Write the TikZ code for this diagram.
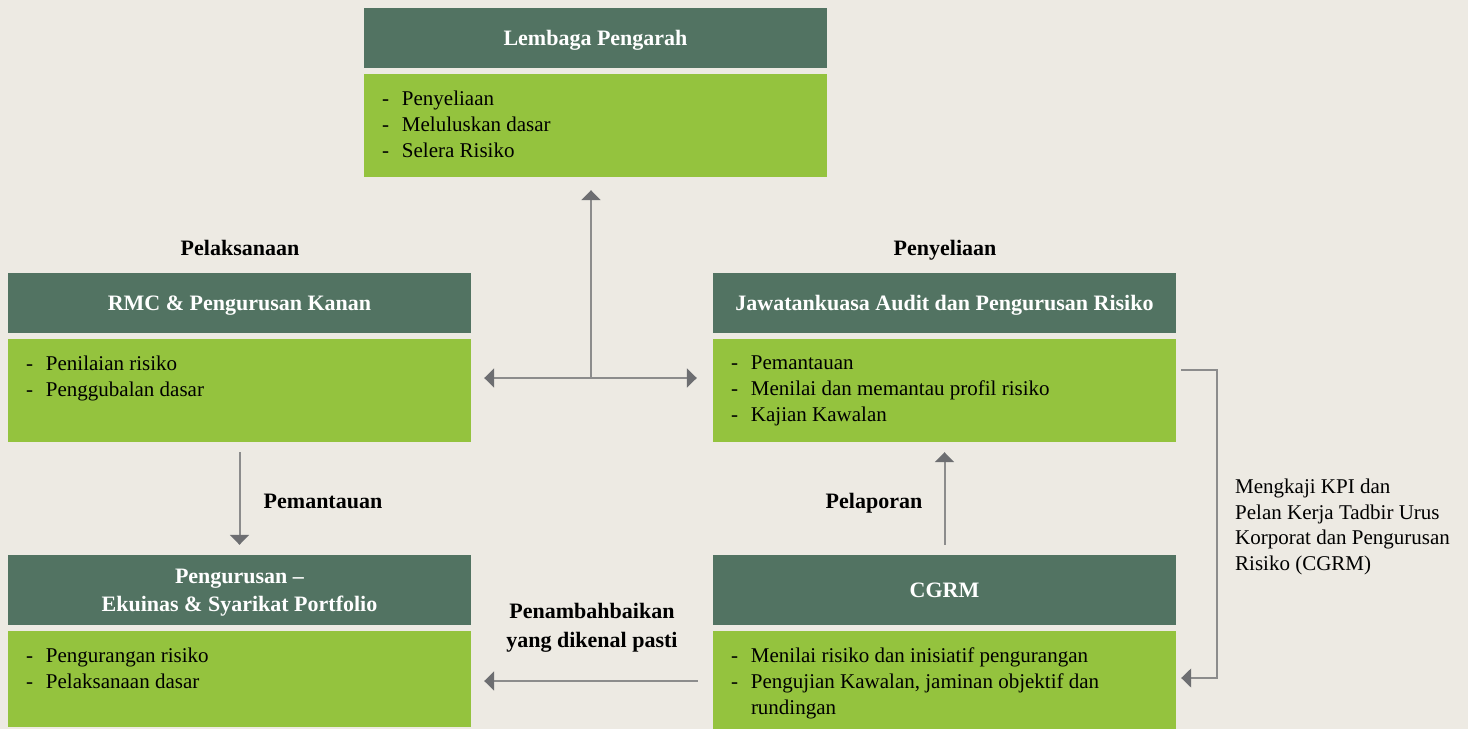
\documentclass[tikz,border=0pt]{standalone}
\usepackage{fontspec}
\setmainfont{Liberation Serif}
\usetikzlibrary{arrows.meta,calc}
\definecolor{bg}{HTML}{EDEAE3}
\definecolor{dkg}{HTML}{527362}
\definecolor{ltg}{HTML}{94C33E}
\definecolor{lnc}{HTML}{8C8C8C}
\definecolor{tipc}{HTML}{6D6E71}
\newcommand{\dli}{\makebox[20pt][l]{-}}
\begin{document}
\begin{tikzpicture}[x=1pt,y=-1pt,
 hdr/.style={fill=dkg, text=white, font=\fontsize{22}{28}\selectfont\bfseries, minimum width=463pt, inner sep=0pt, align=center, text depth=-3pt},
 bodyb/.style={fill=ltg, minimum width=463pt, inner sep=0pt},
 lst/.style={anchor=north west, inner sep=0pt, font=\fontsize{21}{26}\selectfont, align=left},
 lbl/.style={font=\fontsize{22}{29}\selectfont\bfseries, align=center, inner sep=0pt},
 conn/.style={draw=lnc, line width=2pt, -{Triangle[length=10pt,width=19pt,color=tipc]}},
 dconn/.style={draw=lnc, line width=2pt, {Triangle[length=10pt,width=19pt,color=tipc]}-{Triangle[length=10pt,width=19pt,color=tipc]}},
]
\fill[bg] (0,0) rectangle (1468,729);
\useasboundingbox (0,0) rectangle (1468,729);

% boxes
\node[hdr, minimum height=60pt] (lpH) at (595.5,38) {Lembaga Pengarah};
\node[bodyb, minimum height=103pt] (lpB) at (595.5,125.5) {};
\node[hdr, minimum height=60pt] (rmcH) at (239.5,303) {RMC \& Pengurusan Kanan};
\node[bodyb, minimum height=103pt] (rmcB) at (239.5,390.5) {};
\node[hdr, minimum height=60pt] (audH) at (944.5,303) {Jawatankuasa Audit dan Pengurusan Risiko};
\node[bodyb, minimum height=103pt] (audB) at (944.5,390.5) {};
\node[hdr, minimum height=70pt] (pengH) at (239.5,590) {Pengurusan --\\Ekuinas \& Syarikat Portfolio};
\node[bodyb, minimum height=96pt] (pengB) at (239.5,679) {};
\node[hdr, minimum height=70pt] (cgrmH) at (944.5,590) {CGRM};
\node[bodyb, minimum height=98pt] (cgrmB) at (944.5,680) {};

% lists
\node[lst] (lpL) at ([xshift=18pt,yshift=-17pt]lpB.north west) {\dli Penyeliaan\\\dli Meluluskan dasar\\\dli Selera Risiko};
\node[lst] (rmcL) at ([xshift=18pt,yshift=-17pt]rmcB.north west) {\dli Penilaian risiko\\\dli Penggubalan dasar};
\node[lst] (audL) at ([xshift=18pt,yshift=-17pt]audB.north west) {\dli Pemantauan\\\dli Menilai dan memantau profil risiko\\\dli Kajian Kawalan};
\node[lst] (pengL) at ([xshift=18pt,yshift=-17pt]pengB.north west) {\dli Pengurangan risiko\\\dli Pelaksanaan dasar};
\node[lst] (cgrmL) at ([xshift=18pt,yshift=-17pt]cgrmB.north west) {\dli Menilai risiko dan inisiatif pengurangan\\\dli Pengujian Kawalan, jaminan objektif dan\\\hspace*{20pt}rundingan};

% labels
\node[lbl] (pelak) at (240,248) {Pelaksanaan};
\node[lbl] (penye) at (945,250) {Penyeliaan};
\node[lbl] (peman) at (323,501) {Pemantauan};
\node[lbl] (pelap) at (874,503) {Pelaporan};
\node[lbl] (penam) at (592,628) {Penambahbaikan\\yang dikenal pasti};
\node[anchor=north west, font=\fontsize{21}{25.5}\selectfont, align=left, inner sep=0pt] (kpi) at (1235,479) {Mengkaji KPI dan\\Pelan Kerja Tadbir Urus\\Korporat dan Pengurusan\\Risiko (CGRM)};

% connectors
\coordinate (j) at (591,378);
\draw[conn, shorten >=13pt] (j) -- (j |- lpB.south);
\draw[dconn, shorten <=13pt, shorten >=16pt] (rmcB.east |- j) -- (audB.west |- j);
\draw[conn, shorten <=10pt, shorten >=10pt] (rmcB.south) -- (pengH.north);
\draw[conn, shorten <=10pt, shorten >=10pt] (cgrmH.north) -- (audB.south);
\coordinate (bl) at (0,681);
\draw[conn, shorten <=15pt, shorten >=13pt] (cgrmB.west |- bl) -- (pengB.east |- bl);
\coordinate (b1) at (1217,370);
\coordinate (b2) at (1217,678);
\draw[conn, line width=1.5pt, shorten <=5pt, shorten >=5pt] (audB.east |- b1) -- (b1) -- (b2) -- (cgrmB.east |- b2);
\end{tikzpicture}
\end{document}
